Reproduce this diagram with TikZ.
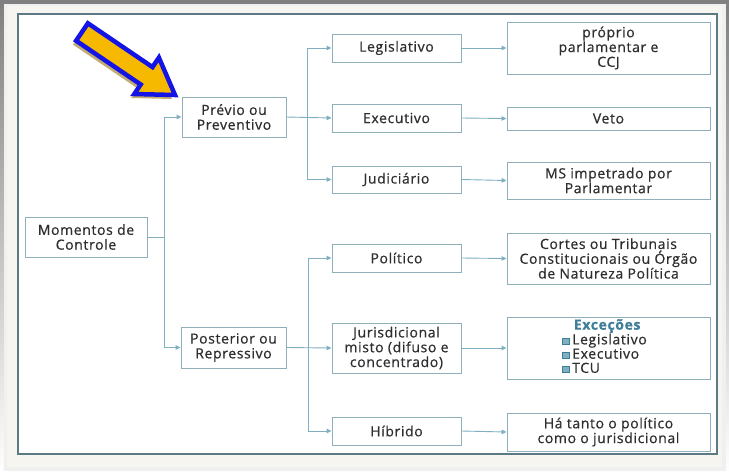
\documentclass[tikz,border=0pt]{standalone}
\usepackage{fontspec}
\setmainfont{Open Sans}[LetterSpace=4.5, FakeBold=0.6]
\usetikzlibrary{arrows.meta}
\definecolor{boxline}{HTML}{8FB0BA}
\definecolor{conn}{HTML}{7FAFC0}
\definecolor{txt}{HTML}{2E2E2E}
\definecolor{frame}{HTML}{5C7A84}
\definecolor{paper}{HTML}{F7F5F0}
\definecolor{shade}{HTML}{BDBDBD}
\definecolor{exc}{HTML}{3F7E98}
\definecolor{arrowfill}{HTML}{F7B900}
\definecolor{arrowline}{HTML}{1414E6}
\definecolor{arrowshadow}{HTML}{C2AE72}
\tikzset{
  box/.style={draw=boxline, line width=0.9pt, fill=white, text=txt, align=center,
    font=\fontsize{14}{14.8}\selectfont, inner sep=0pt},
  conn/.style={draw=conn, line width=0.9pt},
  carrow/.style={conn, -{Triangle[length=5pt,width=4.5pt]}},
}
\newcommand{\bsq}{\tikz[baseline=-0.5pt]\draw[fill=conn, draw=exc, line width=0.7pt] (0,0) rectangle (7pt,6pt);\,}
\begin{document}
\begin{tikzpicture}[x=1pt,y=-1pt]
\useasboundingbox (0,0) rectangle (729,475);
% background / paper
\fill[shade] (0,0) rectangle (729,475);
\fill[gray!12] (4,4) rectangle (726,471);
\fill[paper] (7,6) rectangle (722,467);
\fill[white] (18,14) rectangle (717,454);
\draw[frame, line width=1.3pt] (18,14) rectangle (717,454);

% left nodes
\node[box, minimum width=122pt, minimum height=40pt] (mc) at (86,237) {Momentos de\\Controle};
\node[box, minimum width=104pt, minimum height=40pt] (pre) at (234,117) {Prévio ou\\Preventivo};
\node[box, minimum width=105pt, minimum height=41pt] (pos) at (233.5,347.5) {Posterior ou\\Repressivo};

% middle nodes
\node[box, minimum width=129pt, minimum height=28pt] (leg) at (396.5,48) {Legislativo};
\node[box, minimum width=129pt, minimum height=28pt] (exe) at (396.5,118) {Executivo};
\node[box, minimum width=129pt, minimum height=27pt] (jud) at (396.5,179.5) {Judiciário};
\node[box, minimum width=129pt, minimum height=28pt] (pol) at (396.5,258) {Político};
\node[box, minimum width=129pt, minimum height=50pt] (jur) at (396.5,348) {Jurisdicional\\misto (difuso e\\concentrado)};
\node[box, minimum width=129pt, minimum height=28pt] (hib) at (396.5,431) {Híbrido};

% right nodes
\node[box, minimum width=203pt, minimum height=52pt] (pro) at (608.5,48) {próprio\\parlamentar e\\CCJ};
\node[box, minimum width=203pt, minimum height=23pt] (vet) at (608.5,118.5) {Veto};
\node[box, minimum width=203pt, minimum height=37pt] (ms) at (608.5,180.5) {MS impetrado por\\Parlamentar};
\node[box, minimum width=203pt, minimum height=51pt] (cor) at (608.5,258.5) {Cortes ou Tribunais\\Constitucionais ou Órgão\\de Natureza Política};
\node[box, minimum width=203pt, minimum height=62pt] (exb) at (608.5,348) {};
\node[text=txt, font=\fontsize{14}{13.5}\selectfont, inner sep=0pt] (exl) at ([xshift=-4pt]exb.center) {%
  \begin{tabular}{@{}l@{}}
  \multicolumn{1}{@{}c@{}}{\hspace*{6pt}\textcolor{exc}{\textbf{Exceções}}}\\
  \bsq Legislativo\\
  \bsq Executivo\\
  \bsq TCU
  \end{tabular}};
\node[box, minimum width=203pt, minimum height=38pt] (hat) at (608.5,432) {Há tanto o político\\como o jurisdicional};

% coordinates for the trees
\coordinate (v1) at (164,237);
\coordinate (v1t) at (164,117);
\coordinate (v1b) at (164,347.5);
\coordinate (v2t) at (307,48);
\coordinate (v2b) at (307,179.5);
\coordinate (v3t) at (308,258);
\coordinate (v3b) at (308,431);

% connectors
\draw[conn] (mc.east) -- (v1);
\draw[conn] (v1t) -- (v1b);
\draw[carrow] (v1t) -- (pre.west);
\draw[carrow] (v1b) -- (pos.west);

\draw[conn] (v2t) -- (v2b);
\draw[carrow] (pre.east) -- (exe.west);
\draw[carrow] (v2t) -- (leg.west);
\draw[carrow] (v2b) -- (jud.west);

\draw[conn] (v3t) -- (v3b);
\draw[carrow] (pos.east) -- (jur.west);
\draw[carrow] (v3t) -- (pol.west);
\draw[carrow] (v3b) -- (hib.west);

\draw[carrow] (leg.east) -- (pro.west);
\draw[carrow] (exe.east) -- (vet.west);
\draw[carrow] (jud.east) -- (ms.west);
\draw[carrow] (pol.east) -- (cor.west);
\draw[carrow] (jur.east) -- (exb.west);
\draw[carrow] (hib.east) -- (hat.west);

% big pointer arrow
\fill[arrowshadow] ([shift={(-3,4)}]87.9,23.3) -- ([shift={(-3,4)}]152.5,67.1) -- ([shift={(-3,4)}]158.9,57.6) -- ([shift={(-3,4)}]175,95) -- ([shift={(-3,4)}]134.3,94) -- ([shift={(-3,4)}]140.7,84.5) -- ([shift={(-3,4)}]76.1,40.7) -- cycle;
\draw[arrowline, fill=arrowfill, line width=4.5pt, line join=miter] (87.9,23.3) -- (152.5,67.1) -- (158.9,57.6) -- (175,95) -- (134.3,94) -- (140.7,84.5) -- (76.1,40.7) -- cycle;
\end{tikzpicture}
\end{document}
